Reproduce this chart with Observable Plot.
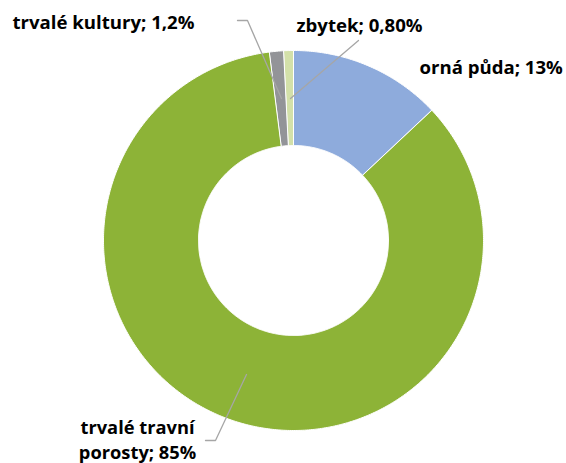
<!DOCTYPE html>
<html><head><meta charset="utf-8">
<script src="https://cdn.jsdelivr.net/npm/d3@7"></script>
<script src="https://cdn.jsdelivr.net/npm/@observablehq/plot@0.6"></script>
<style>body{margin:0;background:#fff}</style>
</head><body><div id="chart"></div>
<script>
const categories = ["orná půda", "trvalé travní porosty", "trvalé kultury", "zbytek"];
const values = [13, 85, 1.2, 0.8];
const valueLabels = ["13%", "85%", "1,2%", "0,80%"];
const colors = ["#8eabdc", "#8db337", "#939498", "#d3e0a9"];

// layout
const W = 566, H = 463, cx = 293, cy = 240, R = 190, r0 = 95;
const labelLayout = [
  {lines: ["orná půda; 13%"], x: 419, y: 73, anchor: "start"},
  {lines: ["trvalé travní", "porosty; 85%"], x: 137, y: 433, anchor: "middle"},
  {lines: ["trvalé kultury; 1,2%"], x: 12, y: 28, anchor: "start"},
  {lines: ["zbytek; 0,80%"], x: 296, y: 31, anchor: "start"}
];
const leaders = [
  null,
  [[205,440],[215,440],[246,374]],
  [[237,20],[247,20],[281,98]],
  [[358,40],[290,98]]
];

const data = categories.map((c,i)=>({category:c, value:values[i], label:valueLabels[i], color:colors[i]}));
const arcs = d3.pie().sort(null).value(d=>d.value)(data);
const pt = (rad, a) => [cx + rad*Math.sin(a), cy - rad*Math.cos(a)];
const polys = [];
arcs.forEach((a,i)=>{
  const n = Math.max(2, Math.ceil((a.endAngle-a.startAngle)/0.01));
  for (let k=0;k<=n;k++){ const t=a.startAngle+(a.endAngle-a.startAngle)*k/n; const [x,y]=pt(R,t); polys.push({x,y,i}); }
  for (let k=n;k>=0;k--){ const t=a.startAngle+(a.endAngle-a.startAngle)*k/n; const [x,y]=pt(r0,t); polys.push({x,y,i}); }
});
const leaderPts = [];
leaders.forEach((l,i)=>{ if(l) l.forEach(([x,y])=>leaderPts.push({x,y,i})); });
const texts = [];
labelLayout.forEach((l,i)=>l.lines.forEach((s,j)=>texts.push({x:l.x, y:l.y + j*25, text:s, anchor:l.anchor})));

const chart = Plot.plot({
  width: W, height: H, margin: 0,
  x: {domain:[0,W], range:[0,W], axis:null},
  y: {domain:[0,H], range:[0,H], axis:null},
  style: {fontFamily: "'Open Sans', sans-serif", background: "#fff"},
  marks: [
    Plot.line(polys, {x:"x", y:"y", z:"i", fill: d=>colors[d.i], stroke:"#fff", strokeWidth:1, curve:"linear-closed"}),
    Plot.line(leaderPts, {x:"x", y:"y", z:"i", stroke:"#a6a6a6", strokeWidth:1.3}),
    Plot.text(texts.filter(d=>d.anchor==="start"), {x:"x", y:"y", text:"text", textAnchor:"start", lineAnchor:"bottom", fontSize:18.6, fontWeight:"bold", fill:"#000"}),
    Plot.text(texts.filter(d=>d.anchor==="middle"), {x:"x", y:"y", text:"text", textAnchor:"middle", lineAnchor:"bottom", fontSize:18.3, fontWeight:"bold", fill:"#000"})
  ]
});
document.getElementById("chart").appendChild(chart);
</script></body></html>
